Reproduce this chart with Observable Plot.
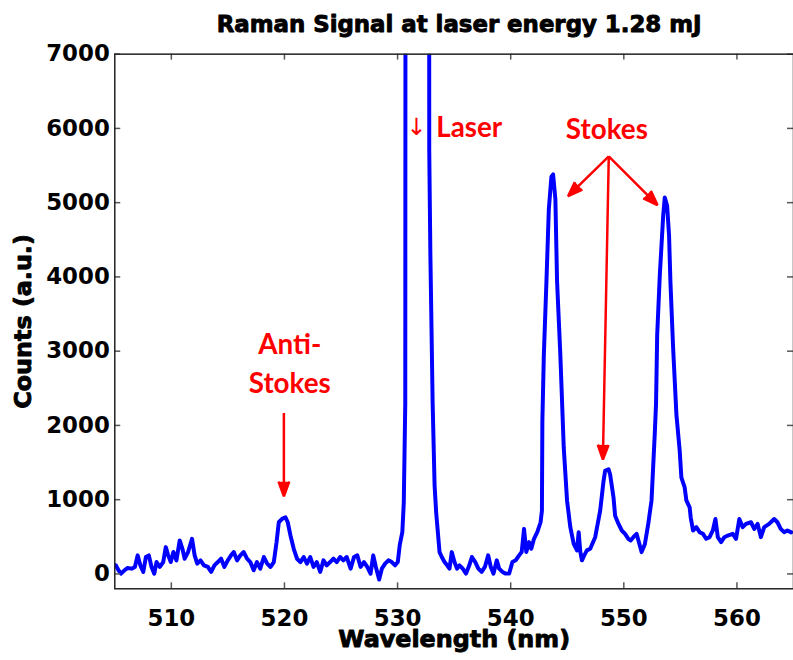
<!DOCTYPE html>
<html><head><meta charset="utf-8">
<script src="https://cdn.jsdelivr.net/npm/d3@7"></script>
<script src="https://cdn.jsdelivr.net/npm/@observablehq/plot@0.6"></script>
<style>
html,body{margin:0;padding:0;background:#fff;}
#chart{width:793px;height:660px;overflow:hidden;}
</style></head><body><div id="chart"></div>
<script>
const wavelength = [
505.0,505.09,505.33,505.55,505.85,506.14,506.49,506.78,507.02,507.26,507.52,507.75,508.01,508.25,508.49,508.69,508.98,509.28,509.51,509.72,509.95,510.18,510.45,510.74,510.98,511.18,511.48,511.83,512.06,512.29,512.58,512.88,513.23,513.52,513.81,514.11,514.40,514.69,514.99,515.28,515.52,515.81,516.10,516.40,516.69,516.98,517.28,517.57,517.86,
518.18,518.47,518.77,519.06,519.30,519.50,519.79,520.09,520.29,520.53,520.82,521.11,521.41,521.70,521.99,522.28,522.57,522.86,523.16,523.45,523.74,524.04,524.33,524.62,524.92,525.21,525.50,525.85,526.15,526.44,526.73,527.03,527.32,527.61,527.85,528.08,528.37,528.61,528.90,529.19,529.49,529.78,530.02,530.19,530.42,530.55,530.68,530.80,
532.70,532.80,532.90,533.10,533.27,533.41,533.56,533.71,533.91,534.15,534.38,534.59,534.79,535.03,535.26,535.47,535.76,536.05,536.34,536.57,536.87,537.14,537.43,537.72,538.01,538.24,538.48,538.77,538.98,539.27,539.56,539.86,540.15,540.44,540.74,540.97,541.18,541.38,541.62,541.82,542.06,542.35,542.64,542.76,542.80,542.93,
543.16,543.37,543.60,543.75,543.95,544.10,544.39,544.69,544.98,545.27,545.57,545.86,546.01,546.15,546.30,546.50,546.74,547.03,547.47,547.91,548.21,548.35,548.65,548.79,549.09,549.23,549.53,549.82,550.11,550.40,550.60,550.84,551.13,551.57,551.86,552.16,552.45,552.74,552.85,552.95,553.18,553.48,553.62,553.83,554.00,554.12,554.36,554.65,554.94,555.09,555.38,555.53,555.82,555.91,556.12,556.41,556.70,557.00,557.29,557.58,557.87,558.10,558.31,558.60,558.89,559.19,559.63,559.92,560.21,560.51,560.80,561.24,561.53,561.83,562.12,562.41,562.85,563.29,563.58,563.87,564.17,564.46,564.80
];
const counts = [
120,116,49,4,49,80,71,94,250,116,27,228,250,94,4,160,94,160,361,250,160,295,183,451,339,205,295,473,250,138,183,116,94,27,116,160,205,94,183,250,295,183,250,295,205,160,49,160,71,
228,138,94,160,428,696,741,763,696,518,339,205,160,228,138,228,94,160,27,183,116,160,205,160,228,183,228,71,228,250,94,160,94,4,250,94,-76,71,138,183,160,116,160,388,562,964,2300,40000,
40000,5700,4300,2300,1200,830,562,294,228,160,116,71,294,160,71,116,71,4,116,228,160,71,27,94,250,94,4,183,71,27,4,4,160,183,250,294,607,294,428,339,473,562,696,850,2060,2950,
3940,4910,5350,5380,5047,3936,2945,1700,990,630,405,317,562,300,183,250,317,339,495,852,1254,1388,1410,1339,1030,785,674,585,540,473,450,495,540,294,400,674,990,1900,2300,3217,4020,4823,5070,4957,4555,3936,3039,2146,1660,1298,1165,990,897,763,585,630,562,540,473,495,585,740,495,428,495,517,540,473,740,630,674,696,607,674,495,630,674,740,696,607,562,585,560
];
const xTicks = [510, 520, 530, 540, 550, 560];
const yTicks = [0, 1000, 2000, 3000, 4000, 5000, 6000, 7000];
const titleText = ["Raman Signal at laser energy 1.28 mJ"];
const xLabel = ["Wavelength (nm)"];
const yLabel = ["Counts (a.u.)"];
const noteText = ["Anti-", "Stokes", "Laser", "Stokes"];
const noteX = [520.47, 520.47, 536.33, 548.5];
const noteY = [3079, 2557, 6010, 5984];
const laserGlyph = ["↓"];
const laserGlyphX = [531.67];
const laserGlyphY = [6010];
const arrowX1 = [519.95, 548.67, 548.67, 548.67];
const arrowY1 = [2169, 5622, 5622, 5622];
const arrowX2 = [519.95, 545.07, 552.98, 548.15];
const arrowY2 = [1044, 5087, 4967, 1539];

const spectrum = wavelength.map((w, i) => ({w, c: counts[i]}));
const notes = noteText.map((t, i) => ({t, x: noteX[i], y: noteY[i]}));
const arrows = arrowX1.map((x1, i) => ({x1, y1: arrowY1[i], x2: arrowX2[i], y2: arrowY2[i]}));

const W = 798, H = 660, mT = 54, mB = 68, mL = 115, mR = 0;
const fw = W - mL - mR, fh = H - mT - mB;
const tick = 6;
const heavy = {fontWeight: "bold", stroke: "black", strokeWidth: 0.9, fill: "black"};

const chart = Plot.plot({
  width: W, height: H,
  marginTop: mT, marginBottom: mB, marginLeft: mL, marginRight: mR,
  style: {fontFamily: "DejaVu Sans", background: "white", color: "black"},
  x: {domain: [505, 565], axis: null},
  y: {domain: [-200, 7000], axis: null},
  marks: [
    Plot.line(spectrum, {x: "w", y: "c", stroke: "#0000ff", strokeWidth: 4, strokeLinejoin: "round", clip: true}),
    Plot.ruleX(xTicks, {x: d => d, stroke: "#555", strokeWidth: 1.5, insetTop: fh - tick}),
    Plot.ruleX(xTicks, {x: d => d, stroke: "#555", strokeWidth: 1.5, insetBottom: fh - tick}),
    Plot.ruleY(yTicks, {y: d => d, stroke: "#555", strokeWidth: 1.5, insetRight: fw - tick}),
    Plot.ruleY(yTicks, {y: d => d, stroke: "#555", strokeWidth: 1.5, insetLeft: fw - tick}),
    Plot.frame({stroke: "#222", strokeWidth: 1.5}),
    Plot.axisX(xTicks, {tickSize: 0, tickPadding: 21, fontSize: 23, ...heavy, tickFormat: "d", label: null}),
    Plot.axisY(yTicks, {tickSize: 0, tickPadding: 5, fontSize: 23, ...heavy, tickFormat: "d", label: null}),
    Plot.text(titleText, {frameAnchor: "top", lineAnchor: "middle", dy: -30, dx: 5, fontSize: 23, ...heavy}),
    Plot.text(xLabel, {frameAnchor: "bottom", lineAnchor: "middle", textAnchor: "middle", dy: 51, fontSize: 24, ...heavy}),
    Plot.text(yLabel, {frameAnchor: "left", lineAnchor: "middle", textAnchor: "middle", dx: -92, rotate: -90, fontSize: 24, ...heavy}),
    Plot.text(notes, {x: "x", y: "y", text: "t", fill: "#ff0000", fontFamily: "Lato", fontWeight: "bold", fontSize: 28}),
    Plot.text(laserGlyph, {x: () => laserGlyphX[0], y: () => laserGlyphY[0], fill: "#ff0000", fontSize: 24}),
    Plot.arrow(arrows, {x1: "x1", y1: "y1", x2: "x2", y2: "y2", stroke: "#ff0000", fill: "#ff0000", strokeWidth: 2.5, headLength: 9.5, headAngle: 40, strokeLinejoin: "miter", strokeLinecap: "butt"})
  ]
});
document.getElementById("chart").appendChild(chart);
</script></body></html>
